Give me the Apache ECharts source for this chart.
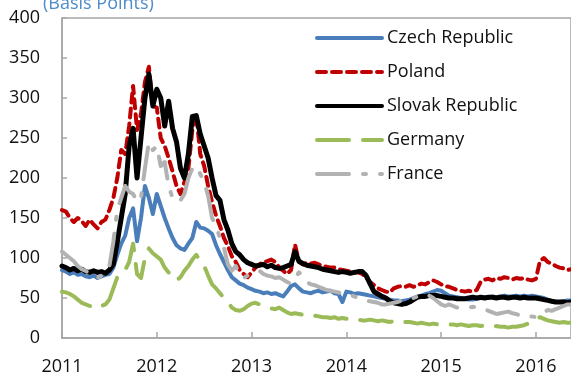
<!DOCTYPE html>
<html>
<head>
<meta charset="utf-8">
<script src="https://cdn.jsdelivr.net/npm/echarts@6/dist/echarts.min.js"></script>
<style>
  html, body { margin: 0; padding: 0; background: #fff; }
  #chart { width: 571px; height: 376px; }
</style>
</head>
<body>
<div id="chart"></div>
<script>
// Semi-monthly observations starting January 2011 (basis points)
const startYear = 2011;
const stepsPerYear = 24;

const yTicks = [0, 50, 100, 150, 200, 250, 300, 350, 400];
const yearLabels = [2011, 2012, 2013, 2014, 2015, 2016];

const seriesNames = ['Czech Republic', 'Poland', 'Slovak Republic', 'Germany', 'France'];

const czech = [
  85, 83, 80, 82, 79, 80, 77, 76, 78, 75, 77, 79, 80, 88, 104, 118, 128, 150, 162, 121,
  150, 190, 175, 155, 180, 165, 150, 137, 125, 116, 112, 110, 118, 125, 145, 138, 137, 134, 130, 116,
  105, 95, 85, 76, 72, 68, 66, 63, 61, 59, 58, 56, 57, 55, 56, 54, 52, 58, 65, 67,
  62, 58, 57, 56, 58, 59, 57, 58, 59, 56, 55, 45, 58, 57, 55, 56, 55, 54, 53, 52,
  51, 50, 49, 48, 47, 47, 46, 47, 48, 50, 51, 53, 55, 56, 58, 60, 59, 56, 53, 52,
  51, 50, 49, 48, 48, 49, 50, 51, 50, 52, 51, 52, 53, 52, 52, 53, 52, 53, 52, 53,
  52, 51, 50, 48, 46, 45, 45, 46, 47, 47
];

const poland = [
  160, 158, 150, 145, 150, 146, 140, 148, 142, 137, 145, 148, 160, 175, 200, 235, 230, 265, 315, 260,
  280, 320, 339, 290, 288, 250, 240, 225, 208, 190, 180, 195, 212, 260, 280, 230, 215, 190, 170, 153,
  140, 125, 115, 102, 95, 85, 80, 76, 82, 88, 92, 95, 96, 98, 95, 88, 84, 80, 85, 117,
  95, 92, 94, 93, 94, 92, 90, 89, 88, 88, 86, 85, 84, 83, 82, 82, 80, 76, 70, 66,
  62, 60, 58, 57, 62, 64, 65, 64, 66, 64, 66, 68, 67, 70, 72, 70, 67, 65, 64, 62,
  60, 59, 58, 59, 58, 60, 70, 73, 74, 72, 75, 74, 76, 75, 73, 75, 74, 75, 73, 72,
  74, 96, 100, 95, 93, 90, 88, 87, 85, 86
];

const slovak = [
  90, 88, 85, 87, 84, 86, 83, 82, 84, 82, 83, 81, 85, 92, 120, 150, 180, 240, 262, 200,
  250, 300, 330, 290, 311, 300, 265, 296, 262, 245, 212, 200, 230, 277, 278, 255, 240, 225, 200, 178,
  172, 148, 135, 118, 108, 104, 98, 94, 92, 90, 91, 92, 89, 91, 88, 87, 88, 90, 92, 108,
  96, 93, 91, 90, 89, 88, 86, 85, 84, 83, 82, 83, 82, 81, 82, 83, 83, 78, 68, 58,
  55, 52, 50, 46, 44, 43, 42, 43, 45, 48, 51, 52, 52, 53, 53, 53, 52, 51, 50, 50,
  49, 49, 49, 50, 51, 50, 51, 50, 51, 51, 50, 51, 51, 50, 51, 51, 50, 51, 50, 50,
  50, 49, 48, 47, 46, 45, 45, 45, 44, 45
];

const germany = [
  58, 57, 55, 52, 48, 44, 42, 40, 41, 38, 40, 42, 48, 62, 76, 82, 85, 95, 118, 80,
  75, 100, 112, 106, 102, 98, 88, 82, 76, 72, 76, 84, 90, 98, 104, 96, 90, 78, 67, 62,
  56, 50, 45, 38, 35, 34, 36, 40, 43, 44, 42, 40, 38, 37, 36, 38, 35, 32, 30, 31,
  30, 29, 28, 27, 28, 27, 26, 26, 25, 26, 24, 25, 24, 23, 24, 23, 22, 22, 23, 22,
  21, 22, 21, 20, 21, 20, 19, 20, 20, 19, 18, 19, 18, 17, 18, 17, 17, 18, 17, 17,
  16, 17, 16, 15, 16, 16, 15, 16, 15, 14, 15, 14, 14, 13, 14, 14, 15, 16, 18, 22,
  24, 26, 24, 22, 21, 20, 19, 20, 19, 19
];

const france = [
  108, 104, 100, 96, 90, 86, 84, 80, 76, 75, 78, 82, 90, 120, 160, 175, 190, 183, 180, 170,
  175, 212, 245, 235, 240, 215, 220, 190, 175, 170, 172, 180, 200, 212, 215, 205, 195, 178, 150, 140,
  125, 113, 92, 84, 90, 78, 75, 78, 80, 82, 84, 80, 78, 77, 75, 76, 73, 70, 68, 75,
  82, 78, 70, 67, 66, 64, 62, 60, 59, 58, 57, 55, 55, 54, 52, 50, 48, 47, 46, 45,
  44, 42, 42, 43, 44, 45, 47, 48, 50, 50, 52, 54, 55, 53, 50, 46, 42, 40, 42, 40,
  38, 38, 37, 38, 39, 38, 38, 36, 34, 32, 30, 31, 32, 33, 31, 30, 28, 27, 26, 27,
  26, 28, 32, 35, 34, 36, 38, 40, 42, 42
];

const toPairs = arr => arr.map((v, i) => [startYear + i / stepsPerYear, v]);

const chart = echarts.init(document.getElementById('chart'), null, { renderer: 'canvas' });

const font = '"Open Sans", Lato, sans-serif';
const axisGray = '#a6a6a6';

const styles = [
  { color: '#4a7ebb', width: 4, type: 'solid' },
  { color: '#c00000', width: 4, type: [9, 6] },
  { color: '#000000', width: 5, type: 'solid' },
  { color: '#9bbb59', width: 4, type: [32, 14] },
  { color: '#b2b2b2', width: 4, type: [32, 14, 3, 14] }
];
const dataSets = [czech, poland, slovak, germany, france];

chart.setOption({
  animation: false,
  backgroundColor: '#ffffff',
  title: {
    text: '(Basis Points)',
    left: 38,
    top: -10,
    textStyle: { color: '#4f8bc9', fontFamily: font, fontSize: 18, fontWeight: 'normal' }
  },
  grid: { left: 62, top: 18, right: 0, bottom: 35, show: true, borderColor: axisGray, borderWidth: 1.5 },
  legend: {
    orient: 'vertical',
    left: 310,
    top: 24,
    itemWidth: 65,
    itemHeight: 14,
    itemGap: 16,
    data: seriesNames,
    itemStyle: { opacity: 0 },
    lineStyle: { width: 4 },
    textStyle: { fontFamily: font, fontSize: 18, color: '#111' }
  },
  xAxis: {
    type: 'value',
    min: 2011,
    max: 2016.37,
    interval: 1,
    splitLine: { show: false },
    axisLine: { lineStyle: { color: axisGray, width: 1.5 } },
    axisTick: { inside: true, length: 6, lineStyle: { color: axisGray, width: 1.5 } },
    axisLabel: {
      margin: 20,
      fontFamily: font,
      fontSize: 18,
      color: '#111',
      showMaxLabel: false,
      formatter: v => (yearLabels.indexOf(Math.round(v)) >= 0 && Math.abs(v - Math.round(v)) < 1e-6) ? String(Math.round(v)) : ''
    }
  },
  yAxis: {
    type: 'value',
    min: yTicks[0],
    max: yTicks[yTicks.length - 1],
    interval: 50,
    splitLine: { show: false },
    axisLine: { show: true, lineStyle: { color: axisGray, width: 1.5 } },
    axisTick: { show: true, inside: true, length: 5, lineStyle: { color: axisGray, width: 1.5 } },
    axisLabel: { margin: 22, fontFamily: font, fontSize: 18, color: '#111' }
  },
  series: seriesNames.map((name, k) => ({
    name: name,
    type: 'line',
    data: toPairs(dataSets[k]),
    symbol: 'none',
    smooth: false,
    clip: true,
    color: styles[k].color,
    lineStyle: { color: styles[k].color, width: styles[k].width, type: styles[k].type, cap: 'round', join: 'round' }
  }))
});
</script>
</body>
</html>
